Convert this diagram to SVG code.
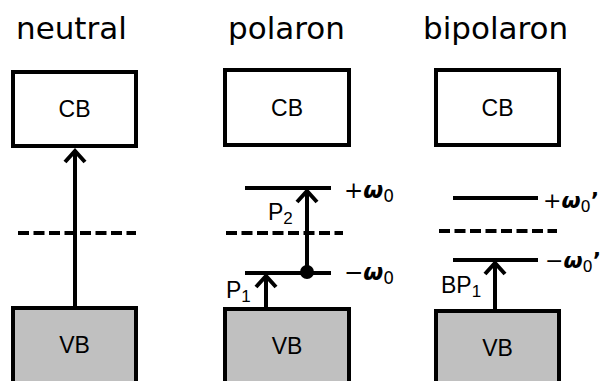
<svg xmlns="http://www.w3.org/2000/svg" width="602" height="381" viewBox="0 0 602 381">
<style>
.box{fill:#fff;stroke:#000;stroke-width:4}
.vb{fill:#c0c0c0;stroke:#000;stroke-width:4}
.lvl{stroke:#000;stroke-width:4;fill:none}
.dash{stroke:#000;stroke-width:4;fill:none;stroke-dasharray:11 4.5}
.arr{stroke:#000;stroke-width:4;fill:none}
.head{stroke:#000;stroke-width:4;fill:none;stroke-linejoin:miter}
.title{font-family:"DejaVu Sans",Verdana,sans-serif;font-size:31px;fill:#000}
.lab{font-family:"Liberation Sans",Arial,sans-serif;font-size:23px;fill:#000}
.w{font-family:"DejaVu Sans",Verdana,sans-serif;font-size:23px;fill:#000}
.w2{font-family:"DejaVu Sans",Verdana,sans-serif;font-size:22px;fill:#000}
</style>
<g id="titles">
<text class="title" x="16" y="39">neutral</text>
<text class="title" x="228" y="39">polaron</text>
<text class="title" x="423" y="39">bipolaron</text>
</g>
<g id="neutral-CB"><rect class="box" x="13" y="72" width="123" height="74"/><text class="lab" x="74.5" y="117" text-anchor="middle">CB</text></g>
<g id="neutral-VB"><rect class="vb" x="13" y="308" width="123" height="80"/><text class="lab" x="74.5" y="353" text-anchor="middle">VB</text></g>
<g id="polaron-CB"><rect class="box" x="225" y="70" width="124" height="75"/><text class="lab" x="287" y="116" text-anchor="middle">CB</text></g>
<g id="polaron-VB"><rect class="vb" x="225" y="309" width="124" height="80"/><text class="lab" x="287" y="354" text-anchor="middle">VB</text></g>
<g id="bipolaron-CB"><rect class="box" x="436" y="70" width="123" height="75"/><text class="lab" x="497.5" y="116" text-anchor="middle">CB</text></g>
<g id="bipolaron-VB"><rect class="vb" x="436" y="311" width="123" height="80"/><text class="lab" x="497.5" y="356" text-anchor="middle">VB</text></g>
<g id="levels">
<line class="dash" x1="18" y1="233" x2="136" y2="233"/>
<line class="lvl" x1="245" y1="188" x2="331" y2="188"/>
<line class="dash" x1="226" y1="233" x2="343" y2="233"/>
<line class="lvl" x1="245" y1="273" x2="331" y2="273"/>
<line class="lvl" x1="453" y1="198" x2="538" y2="198"/>
<line class="dash" x1="439" y1="231" x2="557" y2="231"/>
<line class="lvl" x1="453" y1="260" x2="538" y2="260"/>
</g>
<g id="connectors">
<line class="arr" x1="75" y1="306" x2="75" y2="150"/>
<polyline class="head" points="65,162 75,151 85,162"/>
<line class="arr" x1="307" y1="273" x2="307" y2="191"/>
<polyline class="head" points="297,202 307,191 317,202"/>
<circle cx="307" cy="272" r="7" fill="#000"/>
<line class="arr" x1="266" y1="307" x2="266" y2="276"/>
<polyline class="head" points="256,287 266,276 276,287"/>
<line class="arr" x1="495" y1="309" x2="495" y2="263"/>
<polyline class="head" points="485,274 495,263 505,274"/>
</g>
<g id="labels">
<text class="lab" x="268" y="220">P<tspan font-size="17" dy="4">2</tspan></text>
<text class="lab" x="226" y="298">P<tspan font-size="17" dy="4">1</tspan></text>
<text class="lab" x="441" y="293">BP<tspan font-size="17" dy="4">1</tspan></text>
<text class="w" x="344" y="198">+<tspan font-weight="bold" font-style="italic">ω</tspan><tspan font-size="17" dy="4">0</tspan></text>
<text class="w" x="344" y="280">−<tspan font-weight="bold" font-style="italic">ω</tspan><tspan font-size="17" dy="4">0</tspan></text>
<text class="w2" x="543" y="208">+<tspan font-weight="bold" font-style="italic">ω</tspan><tspan font-size="16" dy="4">0</tspan><tspan dy="-4" font-weight="bold">’</tspan></text>
<text class="w2" x="545" y="268">−<tspan font-weight="bold" font-style="italic">ω</tspan><tspan font-size="16" dy="4">0</tspan><tspan dy="-4" font-weight="bold">’</tspan></text>
</g>
</svg>
